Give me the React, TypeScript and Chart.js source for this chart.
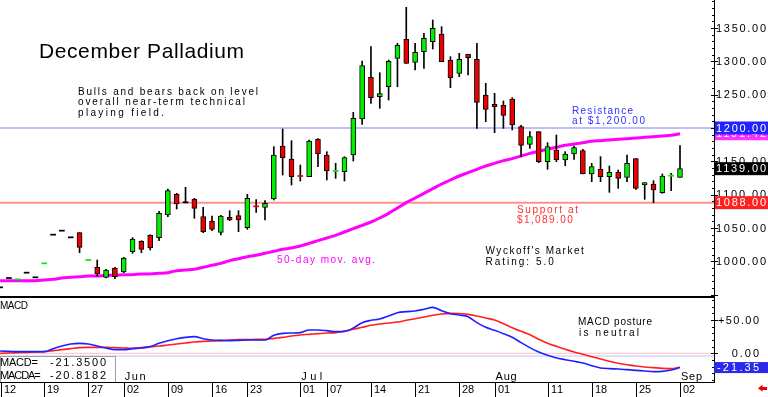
import React, { useEffect, useRef } from "react";
import { Chart, registerables } from "chart.js";
Chart.register(...registerables);

// ---------- DATA ----------
// trading-day index 0 = May 12 ... 77 = Sep 02
const opens = [961, 975, 973, 983, 976, 997, 1040, 1046, 1036, 1043, 1002, 991, 976, 990, 984, 1014.5, 1030, 1039, 1035.5, 1069.5, 1100.5, 1088.5, 1093, 1067, 1060.5, 1043.5, 1066, 1068.5, 1050.5, 1082.5, 1081, 1093.5, 1173, 1153.5, 1128, 1127, 1183.5, 1159.5, 1135.5, 1134.5, 1159.5, 1213.5, 1276, 1247, 1262, 1304.5, 1333, 1298.5, 1314.5, 1329.5, 1341, 1302, 1282, 1310.5, 1303, 1249.5, 1235.5, 1234, 1243.5, 1202, 1175.5, 1194.5, 1149.5, 1167, 1152, 1161, 1166, 1131, 1138, 1127, 1133.5, 1126, 1154, 1114.5, 1116, 1103, 1128.5, 1126];
const highs = [961, 975, 973, 983, 976, 997, 1040, 1046, 1036, 1043, 1002, 1002, 988, 991, 1006, 1035.5, 1031, 1040, 1075, 1108.5, 1102, 1111, 1094.5, 1081, 1068, 1069, 1076, 1076, 1100.5, 1092.5, 1091, 1172, 1198.5, 1181, 1144.5, 1182, 1184, 1164.5, 1147, 1157, 1223.5, 1300.5, 1322, 1283, 1302, 1327, 1381, 1327, 1342, 1362, 1352, 1307, 1312, 1310.5, 1327, 1267, 1252, 1240.5, 1245.5, 1204, 1194.5, 1194.5, 1178, 1189.5, 1164.5, 1173, 1168, 1147, 1157, 1143, 1137, 1159.5, 1154, 1118, 1121, 1131, 1132, 1173.5];
const lows = [961, 975, 973, 983, 976, 997, 1040, 1046, 1036, 1013, 1002, 978, 975, 974, 983, 1012, 1013, 1017, 1031, 1067, 1078.5, 1088.5, 1064.5, 1043, 1046, 1039.5, 1061, 1044.5, 1048, 1073.5, 1062, 1092, 1129.5, 1114.5, 1120.5, 1127, 1142, 1122, 1124.5, 1120.5, 1150.5, 1205.5, 1237, 1229.5, 1242, 1262, 1297, 1287, 1289.5, 1318.5, 1299.5, 1260.5, 1277, 1279.5, 1199.5, 1209.5, 1193, 1199.5, 1197, 1157, 1169.5, 1148, 1138, 1149.5, 1143.5, 1153, 1131, 1119.5, 1119.5, 1103.5, 1109.5, 1119.5, 1108, 1093, 1088, 1102, 1106, 1126];
const closes = [961, 975, 973, 983, 976, 997, 1040, 1046, 1036, 1021, 1002, 981, 987, 977, 1005, 1033.5, 1018, 1020, 1072, 1106, 1086, 1088.5, 1079.5, 1044.5, 1048, 1068, 1062, 1062, 1094.5, 1082.5, 1087, 1159.5, 1155.5, 1127, 1128, 1180.5, 1161, 1135.5, 1135.5, 1155.5, 1214.5, 1293.5, 1245.5, 1251.5, 1300, 1324, 1297, 1313.5, 1334.5, 1349.5, 1299.5, 1275.5, 1303, 1305.5, 1238.5, 1228, 1232, 1219, 1204.5, 1174, 1187, 1149.5, 1172, 1152, 1161, 1170.5, 1131, 1142, 1127, 1133.5, 1124.5, 1147, 1109.5, 1118, 1107, 1128, 1128.5, 1139];
// colour of the unchanged-day (doji) marks: k = black, g = green, r = red
const dojiIndex = [0, 1, 2, 3, 4, 5, 6, 7, 8, 10, 21, 29, 34, 38, 76];
const dojiTone = ["k", "k", "g", "k", "k", "g", "k", "k", "k", "g", "k", "r", "r", "g", "g"];
const ma50 = [971, 971, 971, 971, 971, 972, 973, 975, 976, 977, 978, 978, 979, 979, 980, 980, 981, 981, 982, 983, 986, 987, 988, 991, 994, 997, 1001, 1004, 1007, 1009, 1012, 1015, 1018, 1020, 1023, 1027, 1031, 1035, 1039, 1044, 1049, 1054, 1059, 1065, 1072, 1080, 1088, 1095, 1102, 1109, 1116, 1122, 1128, 1133, 1138, 1143, 1147, 1151, 1154, 1158, 1162, 1165, 1168, 1171, 1174, 1176, 1178, 1180, 1181, 1182, 1183, 1184, 1185, 1186, 1187, 1188, 1189, 1191.42];
const macd = [3.5, 3, 2.5, 2.5, 2.5, 2.5, 7, 11, 14, 15, 14, 11, 8, 5.5, 5.5, 7, 8, 10, 15, 19, 22, 24, 25, 22, 20, 19.5, 19, 19.5, 20, 20, 20, 27, 30, 30.5, 31, 35, 35, 34, 32.5, 33, 38, 46, 49.5, 51.5, 56, 61, 62.5, 63.5, 66, 69, 64, 59.5, 57.5, 55, 46, 39, 34.5, 29.5, 24, 16, 8.6, 2, -3, -7, -9.5, -12, -14.5, -18.5, -22, -23, -23.5, -24.5, -25.5, -26.5, -27.5, -27, -25, -21.35];
const macdAvg = [0, 0.5, 1, 1.5, 2, 2.5, 4, 5.5, 7, 8.5, 9, 9, 9, 8.5, 8, 7.5, 8.5, 10, 11, 12.5, 14, 15.5, 17, 18, 18.5, 19, 20, 20.5, 20.5, 21, 21, 22.5, 24, 26, 27.5, 28.5, 29.5, 30.5, 31, 33, 36, 39, 42, 44, 45.5, 47, 49.5, 52, 54.5, 57, 59, 60, 59.5, 58.5, 56, 53, 50, 44.5, 38.5, 33, 28, 21, 15, 10.5, 6, 2, -1.5, -5, -8.5, -12, -15, -17, -19, -20.5, -21.5, -22.5, -23, -20.8182];
const resistanceLevel = 1200;
const supportLevel = 1088;
const priceTicks = [1000, 1050, 1100, 1150, 1200, 1250, 1300, 1350];
const macdTicks = [0, 50];
const tickIndex = [0, 5, 10, 14, 19, 24, 28, 34, 37, 42, 47, 52, 56, 62, 67, 72, 77];
const tickLabels = ["12", "19", "27", "02", "09", "16", "23", "01", "07", "14", "21", "28", "01", "11", "18", "25", "02"];
const monthIndex = [14, 34, 56, 77];
const monthLabels = ["Jun", "Jul", "Aug", "Sep"];

// ---------- STYLE ----------
const FONT = '"Liberation Sans", Arial, sans-serif';
const GREEN = "#00f000";
const RED = "#ee0000";
const X_MIN = -0.011;
const X_MAX = 80.85;
const AXIS_X = 714;

function fitText(ctx: CanvasRenderingContext2D, s: string, x: number, y: number, size: number, color: string, target?: number, align: CanvasTextAlign = "left", baseline: CanvasTextBaseline = "alphabetic") {
  ctx.font = `${size}px ${FONT}`;
  (ctx as any).letterSpacing = "0px";
  let sp = 0;
  if (target) {
    const w = ctx.measureText(s).width;
    sp = (target - w) / Math.max(1, s.length - 1);
  }
  (ctx as any).letterSpacing = sp + "px";
  ctx.fillStyle = color;
  ctx.textAlign = align;
  ctx.textBaseline = baseline;
  ctx.fillText(s, align === "right" ? x + sp : x, y);
  (ctx as any).letterSpacing = "0px";
}

const idx = opens.map((_, i) => i);
const bodyIdx = idx.filter((i) => opens[i] !== closes[i]);
const toneColor: Record<string, string> = { k: "#000000", g: GREEN, r: RED };

const topPlugin = {
  id: "topDecor",
  afterDraw(chart: any) {
    const ctx: CanvasRenderingContext2D = chart.ctx;
    const ys = chart.scales.y;
    ctx.save();
    fitText(ctx, "December Palladium", 39, 58, 21, "#000", 205);
    fitText(ctx, "Bulls and bears back on level", 78, 94.5, 10, "#000", 180);
    fitText(ctx, "overall near-term technical", 78, 105, 10, "#000", 167);
    fitText(ctx, "playing field.", 78, 115.7, 10, "#000", 86);
    fitText(ctx, "Resistance", 572, 113.5, 10, "#3030ff", 61);
    fitText(ctx, "at $1,200.00", 572, 124, 10, "#3030ff", 73);
    fitText(ctx, "Support at", 517, 212.7, 10, "#ff3030", 61);
    fitText(ctx, "$1,089.00", 517, 223, 10, "#ff3030", 55.7);
    fitText(ctx, "Wyckoff's Market", 485.5, 254, 10, "#000", 98.3);
    fitText(ctx, "Rating: 5.0", 485.5, 265, 10, "#000", 68.3);
    fitText(ctx, "50-day mov. avg.", 277, 263.3, 10, "#ff00ff", 98);
    ctx.fillStyle = "#000";
    ctx.fillRect(AXIS_X, 0, 1, 296);
    for (let v = 950; v <= 1390; v += 10) {
      const y = Math.round(ys.getPixelForValue(v));
      const major = v % 50 === 0;
      ctx.fillRect(major ? AXIS_X - 3 : AXIS_X - 2, y, major ? 7 : 3, 1);
    }
    priceTicks.forEach((v) => {
      fitText(ctx, v.toFixed(2), 716, ys.getPixelForValue(v) + 0.5, 11, "#000", 50, "left", "middle");
    });
    const box = (v: number, bg: string) => {
      const y = ys.getPixelForValue(v);
      ctx.fillStyle = bg;
      ctx.fillRect(715, y - 6.5, 53, 13);
      fitText(ctx, v.toFixed(2), 716, y + 0.5, 11, "#fff", 50, "left", "middle");
    };
    box(ma50[ma50.length - 1], "#ff30ff");
    box(resistanceLevel, "#2222ff");
    box(closes[closes.length - 1], "#000");
    box(supportLevel, "#ff2020");
    ctx.restore();
  },
};

const bottomPlugin = {
  id: "botDecor",
  afterDraw(chart: any) {
    const ctx: CanvasRenderingContext2D = chart.ctx;
    const ys = chart.scales.y;
    const xs = chart.scales.x;
    ctx.save();
    ctx.fillStyle = "#000";
    ctx.fillRect(0, 0, AXIS_X + 1, 2);
    ctx.fillRect(AXIS_X, 0, 1, 86);
    for (let v = -40; v <= 80; v += 10) {
      const y = Math.round(ys.getPixelForValue(v));
      const major = v % 50 === 0;
      ctx.fillRect(major ? AXIS_X - 3 : AXIS_X - 2, y, major ? 7 : 3, 1);
    }
    macdTicks.forEach((v) => {
      const s = v > 0 ? "+" + v.toFixed(2) : v.toFixed(2);
      fitText(ctx, s, 759, ys.getPixelForValue(v) + 0.5, 11, "#000", v > 0 ? 41 : 27.3, "right", "middle");
    });
    {
      const v = macd[macd.length - 1];
      const y = ys.getPixelForValue(v);
      ctx.fillStyle = "#2a2ae8";
      ctx.fillRect(714, y - 5.5, 54, 11);
      fitText(ctx, v.toFixed(2), 759, y + 0.5, 11, "#fff", 42, "right", "middle");
    }
    fitText(ctx, "MACD", 0, 12.5, 10, "#000", 28);
    fitText(ctx, "MACD posture", 578, 29, 10, "#000", 74);
    fitText(ctx, "is neutral", 579, 39.7, 10, "#000", 60);
    ctx.fillStyle = "#fff";
    ctx.fillRect(0, 60, 116, 26);
    ctx.strokeStyle = "#a0a0a0";
    ctx.lineWidth = 1;
    ctx.strokeRect(0.5, 60.5, 115, 26);
    fitText(ctx, "MACD=", 0, 70, 11, "#000", 38);
    fitText(ctx, "MACDA=", 0, 83, 11, "#000", 40.7);
    fitText(ctx, macd[macd.length - 1].toFixed(4), 50, 70, 11, "#000", 56);
    fitText(ctx, macdAvg[macdAvg.length - 1].toFixed(4), 50, 83, 11, "#000", 56);
    monthIndex.forEach((m, k) => {
      fitText(ctx, monthLabels[k], xs.getPixelForValue(m) + 1, 83.5, 11, "#000", 21);
    });
    ctx.fillStyle = "#000";
    ctx.fillRect(0, 86, AXIS_X + 1, 1);
    tickIndex.forEach((t, k) => {
      const px = Math.max(1, Math.round(xs.getPixelForValue(t)));
      ctx.fillStyle = "#000";
      ctx.fillRect(px, 86, 1, 15);
      fitText(ctx, tickLabels[k], px + 3, 97, 11, "#000", 12);
    });
    ctx.fillStyle = "#ee0000";
    ctx.beginPath();
    ctx.moveTo(758, 92.3);
    ctx.lineTo(762.5, 88.8);
    ctx.lineTo(762.5, 95.8);
    ctx.closePath();
    ctx.fill();
    ctx.fillRect(762, 91, 5, 3);
    ctx.restore();
  },
};

export default function App() {
  const topRef = useRef<HTMLCanvasElement>(null);
  const botRef = useRef<HTMLCanvasElement>(null);
  useEffect(() => {
    const common: any = {
      responsive: false,
      animation: false,
      events: [],
      plugins: { legend: { display: false }, tooltip: { enabled: false } },
    };
    const c1 = new Chart(topRef.current as HTMLCanvasElement, {
      type: "bar",
      data: {
        datasets: [
          {
            type: "line",
            data: [{ x: X_MIN, y: resistanceLevel }, { x: X_MAX, y: resistanceLevel }],
            borderColor: "#7a7aff",
            borderWidth: 1,
            pointRadius: 0,
            order: 6,
          },
          {
            type: "line",
            data: [{ x: X_MIN, y: supportLevel }, { x: X_MAX, y: supportLevel }],
            borderColor: "#ff9090",
            borderWidth: 2,
            pointRadius: 0,
            order: 6,
          },
          {
            type: "line",
            data: idx.map((i) => ({ x: i, y: ma50[i] })),
            borderColor: "#ff00ff",
            borderWidth: 3,
            pointRadius: 0,
            cubicInterpolationMode: "monotone",
            order: 4,
          },
          {
            type: "bar",
            data: idx.filter((i) => highs[i] > lows[i]).map((i) => ({ x: i, y: [lows[i], highs[i]] })),
            backgroundColor: "#000",
            borderWidth: 0,
            barThickness: 1,
            grouped: false,
            order: 3,
          },
          {
            type: "bar",
            data: bodyIdx.map((i) => ({ x: i, y: [Math.min(opens[i], closes[i]), Math.max(opens[i], closes[i])] })),
            backgroundColor: bodyIdx.map((i) => (closes[i] > opens[i] ? GREEN : RED)),
            borderColor: "#000",
            borderWidth: 1,
            borderSkipped: false,
            barThickness: 5,
            grouped: false,
            order: 2,
          },
          {
            type: "bar",
            data: dojiIndex.map((i) => ({ x: i, y: [closes[i] - 0.8, closes[i] + 0.8] })),
            backgroundColor: dojiTone.map((t) => toneColor[t]),
            borderWidth: 0,
            barThickness: 5,
            grouped: false,
            order: 1,
          },
        ] as any,
      },
      options: {
        ...common,
        layout: { padding: { left: 0, right: 54, top: 0, bottom: 0 } },
        scales: {
          x: { type: "linear", min: X_MIN, max: X_MAX, display: false, offset: false },
          y: { type: "linear", min: 948, max: 1392, display: false },
        },
      },
      plugins: [topPlugin],
    } as any);
    const c2 = new Chart(botRef.current as HTMLCanvasElement, {
      type: "line",
      data: {
        datasets: [
          {
            data: [{ x: X_MIN, y: 0 }, { x: X_MAX, y: 0 }],
            borderColor: "#ffc0c0",
            borderWidth: 1,
            pointRadius: 0,
            order: 5,
          },
          {
            data: [{ x: X_MIN, y: -4 }, { x: X_MAX, y: -4 }],
            borderColor: "#c0c0ff",
            borderWidth: 1,
            pointRadius: 0,
            order: 5,
          },
          {
            data: idx.map((i) => ({ x: i, y: macdAvg[i] })),
            borderColor: "#ff2020",
            borderWidth: 1.6,
            pointRadius: 0,
            cubicInterpolationMode: "monotone",
            order: 2,
          },
          {
            data: idx.map((i) => ({ x: i, y: macd[i] })),
            borderColor: "#2020ff",
            borderWidth: 1.6,
            pointRadius: 0,
            cubicInterpolationMode: "monotone",
            order: 1,
          },
        ] as any,
      },
      options: {
        ...common,
        layout: { padding: { left: 0, right: 54, top: 0, bottom: 15 } },
        scales: {
          x: { type: "linear", min: X_MIN, max: X_MAX, display: false },
          y: { type: "linear", min: -43, max: 86, display: false },
        },
      },
      plugins: [bottomPlugin],
    } as any);
    return () => {
      c1.destroy();
      c2.destroy();
    };
  }, []);
  return (
    <div style={{ position: "fixed", left: 0, top: 0, width: 768, height: 397, background: "#fff" }}>
      <canvas ref={topRef} width={768} height={296} style={{ position: "absolute", left: 0, top: 0 }} />
      <canvas ref={botRef} width={768} height={101} style={{ position: "absolute", left: 0, top: 296 }} />
    </div>
  );
}
